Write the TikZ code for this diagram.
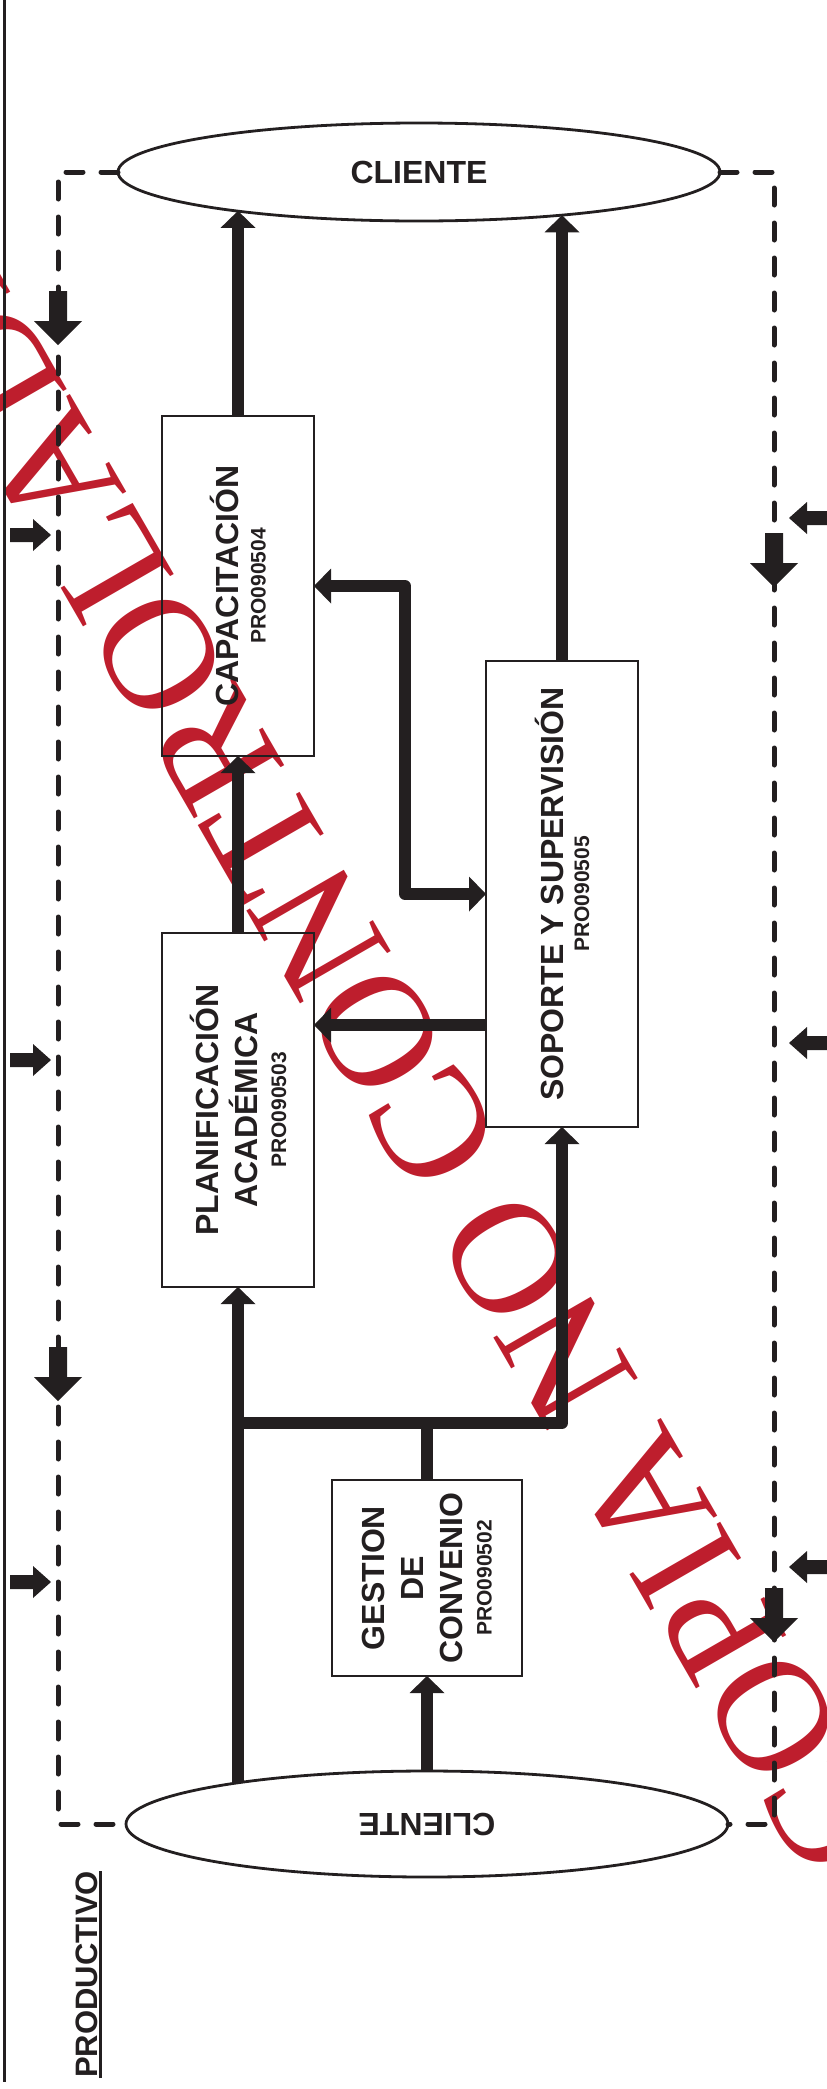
\documentclass[tikz,border=0pt]{standalone}
\usepackage{fontspec}
\usepackage{graphicx}
\setmainfont{Liberation Sans}
\newfontfamily\wmfont{Liberation Serif}
\usetikzlibrary{arrows.meta,shapes.geometric}
\definecolor{ink}{RGB}{35,31,32}
\definecolor{wmred}{RGB}{190,30,45}
\newcommand\pcode[1]{{\fontsize{21}{25}\selectfont #1}}
\begin{document}
\begin{tikzpicture}[x=1pt,y=1pt,
  >={Triangle[width=35pt,length=17pt,line width=0pt]},
  conn/.style={draw=ink, line width=12pt, line join=round, ->},
  plain/.style={draw=ink, line width=12pt, line join=round},
  box/.style={draw=ink, line width=2.5pt, inner sep=0pt, outer sep=0pt},
  oval/.style={ellipse, draw=ink, line width=2.8pt, inner sep=0pt, outer sep=0pt,
    minimum width=602pt, text=ink, font=\fontsize{32}{38}\selectfont\bfseries},
  lbl/.style={rotate=90, align=center, inner sep=0pt, text=ink,
    font=\fontsize{32}{39}\selectfont\bfseries},
  dashline/.style={draw=ink, line width=5pt, dash pattern=on 17pt off 18pt,
    line cap=round, line join=round},
  bigdown/.pic={\fill[ink] (-9,0) -- (9,0) -- (9,-30) -- (24,-30) -- (0,-54)
    -- (-24,-30) -- (-9,-30) -- cycle;},
  smallright/.pic={\fill[ink] (0,-7) -- (23,-7) -- (23,-16) -- (41,0)
    -- (23,16) -- (23,7) -- (0,7) -- cycle;},
  smallleft/.pic={\fill[ink] (0,0) -- (18,16) -- (18,7) -- (45,7)
    -- (45,-7) -- (18,-7) -- (18,-16) -- cycle;}
]
\useasboundingbox (0,0) rectangle (827,-2089);

% watermark
\begin{scope}
  \clip (0,0) rectangle (827,-2089);
  \node[text=wmred, font=\wmfont\fontsize{160}{160}\selectfont, rotate=120,
    inner sep=0pt] (wm) at (382,-1039) {COPIA NO CONTROLADA};
\end{scope}

% separator line
\coordinate (s1) at (4,0);
\coordinate (s2) at (4,-2082);
\draw[ink, line width=3pt] (s1) -- (s2);

% clients
\node[oval, minimum height=98pt] (top) at (419,-172) {CLIENTE};
\node[oval, minimum height=106pt] (bot) at (427,-1824) {\rotatebox{180}{CLIENTE}};

% process boxes
\node[box, minimum width=152pt, minimum height=340pt] (cap) at (238,-586) {};
\node[box, minimum width=152pt, minimum height=466pt] (sop) at (562,-894) {};
\node[box, minimum width=152pt, minimum height=354pt] (plan) at (238,-1110) {};
\node[box, minimum width=190pt, minimum height=196pt] (gest) at (427,-1578) {};

\node[lbl] (captxt) at (cap) {CAPACITACIÓN\\[-12pt]\pcode{PRO090504}};
\node[lbl] (soptxt) at (sop) {SOPORTE Y SUPERVISIÓN\\[-13pt]\pcode{PRO090505}};
\node[lbl] (plantxt) at (plan) {PLANIFICACIÓN\\ACADÉMICA\\[-10pt]\pcode{PRO090503}};
\node[lbl] (gesttxt) at (gest) {GESTION\\DE\\CONVENIO\\[-10pt]\pcode{PRO090502}};

% dashed loop
\coordinate (lb) at (58,-1824);
\coordinate (rb) at (774,-1824);
\draw[dashline] (top.west) -| (lb) -- (bot.west);
\draw[dashline] (top.east) -| (rb) -- (bot.east);

% block arrows on the loop
\pic at (58,-291) {bigdown};
\pic at (58,-1347) {bigdown};
\pic at (774,-533) {bigdown};
\pic at (774,-1588) {bigdown};
\pic at (10,-535) {smallright};
\pic at (10,-1060) {smallright};
\pic at (10,-1582) {smallright};
\pic at (789,-518) {smallleft};
\pic at (789,-1043) {smallleft};
\pic at (789,-1567) {smallleft};

% connectors
\coordinate (jn) at (238,-1423);
\coordinate (pa) at (0,-1025);
\coordinate (bend) at (405,-894);
\draw[conn] (bot.north) -- (gest.south);
\draw[conn] (plan.south |- bot.167.8) -- (plan.south);
\draw[plain] (gest.north) -- (gest.north |- jn);
\draw[conn] (jn) -| (sop.south);
\draw[conn] (plan.north) -- (cap.south);
\draw[conn] (sop.west |- pa) -- (plan.east |- pa);
\draw[conn,<->] (cap.east) -| (bend) -- (sop.west);
\draw[conn] (cap.north) -- (cap.north |- top.192.2);
\draw[conn] (sop.north) -- (sop.north |- top.343.4);

% side label
\node[rotate=90, anchor=base west, inner sep=0pt, text=ink,
  font=\fontsize{31}{36}\selectfont\bfseries] (prod) at (97.5,-2078) {PRODUCTIVO};
\draw[ink, line width=3pt] ([xshift=2.5pt]prod.base west) -- ([xshift=2.5pt]prod.base east);
\end{tikzpicture}
\end{document}
